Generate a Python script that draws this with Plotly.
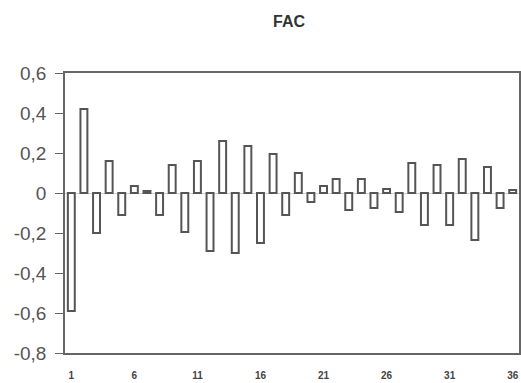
import plotly.graph_objects as go

lags = list(range(1, 37))
fac_values = [-0.59, 0.42, -0.20, 0.16, -0.11, 0.035, 0.01, -0.11, 0.14, -0.195,
              0.16, -0.29, 0.26, -0.30, 0.235, -0.25, 0.195, -0.11, 0.10, -0.045,
              0.035, 0.07, -0.085, 0.07, -0.075, 0.02, -0.095, 0.15, -0.16, 0.14,
              -0.16, 0.17, -0.235, 0.13, -0.075, 0.015]
x_tick_vals = [1, 6, 11, 16, 21, 26, 31, 36]
y_tick_vals = [0.6, 0.4, 0.2, 0, -0.2, -0.4, -0.6, -0.8]
y_tick_text = ["0,6", "0,4", "0,2", "0", "-0,2", "-0,4", "-0,6", "-0,8"]

fig = go.Figure(go.Bar(
    x=lags, y=fac_values,
    marker=dict(color="white", line=dict(color="#555555", width=2)),
))

fig.update_layout(
    width=521, height=383,
    margin=dict(l=65, r=2, t=73, b=30, autoexpand=False),
    plot_bgcolor="white", paper_bgcolor="white",
    bargap=0.45,
    showlegend=False,
    title=dict(text="<b>FAC</b>", xref="container", x=289/521, xanchor="center",
               yref="container", y=1-21/383, yanchor="middle",
               font=dict(family="Liberation Sans, Arial", size=16, color="#333333")),
)
fig.update_xaxes(
    automargin=False,
    range=[0.5, 36.5], tickmode="array", tickvals=x_tick_vals,
    ticktext=[str(v) for v in x_tick_vals],
    showline=True, mirror=True, linecolor="#666666", linewidth=1.5,
    showgrid=False, zeroline=False, ticks="",
    ticklabelstandoff=12,
    tickfont=dict(family="Liberation Sans, Arial", size=10, color="#444444", weight="bold"),
)
fig.update_yaxes(
    automargin=False,
    range=[-0.8, 0.6], tickmode="array", tickvals=y_tick_vals, ticktext=y_tick_text,
    showline=True, mirror=True, linecolor="#666666", linewidth=1.5,
    showgrid=False, zeroline=True, zerolinecolor="#d0d0d0", zerolinewidth=1,
    ticks="outside", ticklen=8, tickcolor="#666666", tickwidth=1,
    ticklabelstandoff=5,
    tickfont=dict(family="Liberation Sans, Arial", size=19, color="#555555"),
)

fig.write_html("out.html",
               config={"displayModeBar": False},
               post_script="document.body.style.margin='0';document.body.style.overflow='hidden';")
